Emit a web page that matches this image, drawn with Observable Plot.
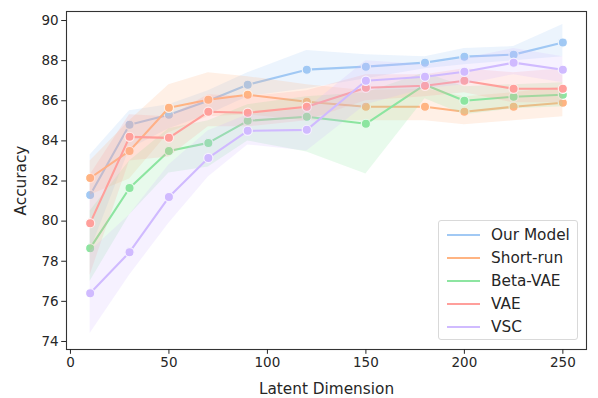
<!DOCTYPE html>
<html>
<head>
<meta charset="utf-8">
<script src="https://cdn.jsdelivr.net/npm/d3@7"></script>
<script src="https://cdn.jsdelivr.net/npm/@observablehq/plot@0.6"></script>
<style>
  html, body { margin: 0; padding: 0; background: #fff; }
  #wrap { position: relative; width: 598px; height: 398px; font-family: "DejaVu Sans", sans-serif; }
  #legend { position: absolute; left: 438px; top: 220px; width: 140px; height: 120px;
    border: 1px solid #d9d9d9; border-radius: 3px; background: rgba(255,255,255,0.85);
    box-sizing: border-box; padding-top: 2px; }
  .row { display: flex; align-items: center; height: 23px; font-size: 15.3px; color: #262626; }
  .sw { width: 33px; height: 2px; margin-left: 8px; margin-right: 11px; }
  g[aria-label="x-axis label"] text, g[aria-label="y-axis label"] text { font-size: 15.3px; }
</style>
</head>
<body>
<div id="wrap"><div id="legend"></div></div>
<script>
const dims = [10, 30, 50, 70, 90, 120, 150, 180, 200, 225, 250];
const seriesNames = ["Our Model", "Short-run", "Beta-VAE", "VAE", "VSC"];
const colors = ["#a1c9f4", "#ffb482", "#8de5a1", "#ff9f9b", "#d0bbff"];

const ourModel   = [81.3, 84.8, 85.3, 86.0, 86.8, 87.55, 87.7, 87.9, 88.2, 88.3, 88.9];
const ourModelLo = [78.5, 83.6, 84.6, 85.3, 86.2, 86.6, 87.1, 87.6, 87.8, 88.0, 88.2];
const ourModelHi = [83.3, 85.5, 85.8, 86.5, 87.4, 88.5, 88.3, 88.2, 88.6, 88.7, 89.8];

const shortRun   = [82.15, 83.5, 85.65, 86.05, 86.3, 85.95, 85.7, 85.7, 85.45, 85.7, 85.9];
const shortRunLo = [81.3, 82.1, 84.4, 85.2, 85.3, 85.0, 85.0, 85.0, 84.8, 85.0, 85.2];
const shortRunHi = [83.0, 85.0, 86.8, 87.4, 87.2, 86.8, 86.5, 86.6, 86.2, 86.4, 86.7];

const betaVAE   = [78.65, 81.65, 83.5, 83.9, 85.0, 85.2, 84.85, 86.8, 86.0, 86.2, 86.3];
const betaVAELo = [77.0, 80.3, 82.4, 82.7, 84.0, 83.45, 82.35, 86.1, 85.3, 85.6, 85.7];
const betaVAEHi = [80.5, 83.0, 84.6, 85.0, 85.8, 86.2, 86.4, 87.4, 86.7, 86.8, 86.9];

const vae   = [79.9, 84.2, 84.15, 85.45, 85.4, 85.7, 86.65, 86.75, 87.0, 86.6, 86.6];
const vaeLo = [77.3, 83.0, 83.2, 84.7, 84.7, 85.0, 86.0, 86.2, 86.4, 85.9, 85.9];
const vaeHi = [82.3, 85.3, 85.2, 86.3, 86.2, 86.5, 87.3, 87.3, 87.6, 87.4, 87.6];

const vsc   = [76.4, 78.45, 81.2, 83.15, 84.5, 84.55, 87.0, 87.2, 87.45, 87.9, 87.55];
const vscLo = [74.4, 77.3, 79.9, 82.2, 83.8, 83.5, 85.8, 86.6, 86.8, 87.3, 86.9];
const vscHi = [78.5, 80.3, 82.8, 84.5, 85.3, 85.6, 88.0, 87.8, 88.1, 88.6, 88.2];

const xTicks = [0, 50, 100, 150, 200, 250];
const yTicks = [74, 76, 78, 80, 82, 84, 86, 88, 90];

const seriesData = [
  [ourModel, ourModelLo, ourModelHi],
  [shortRun, shortRunLo, shortRunHi],
  [betaVAE, betaVAELo, betaVAEHi],
  [vae, vaeLo, vaeHi],
  [vsc, vscLo, vscHi]
];

const marks = [];
seriesData.forEach(([v, lo, hi], i) => {
  const rows = dims.map((d, j) => ({x: d, y: v[j], lo: lo[j], hi: hi[j]}));
  marks.push(Plot.line(rows, {x: "x", y: "y", stroke: colors[i], strokeWidth: 2.1}));
  marks.push(Plot.dot(rows, {x: "x", y: "y", r: 4.6, fill: colors[i], stroke: "white", strokeWidth: 1.2}));
  marks.push(Plot.areaY(rows, {x: "x", y1: "lo", y2: "hi", fill: colors[i], fillOpacity: 0.2}));
});

const chart = Plot.plot({
  width: 598, height: 398,
  marginLeft: 66, marginRight: 12, marginTop: 11, marginBottom: 49,
  style: {fontFamily: "DejaVu Sans, sans-serif", fontSize: "13.5px", color: "#262626", background: "white"},
  x: {domain: [-2, 262]},
  y: {domain: [73.6, 90.45]},
  marks: [
    ...marks,
    Plot.frame({stroke: "#333", strokeWidth: 1.1}),
    Plot.axisX({ticks: xTicks, tickSize: 4.8, tickPadding: 3, label: "Latent Dimension", labelAnchor: "center", labelOffset: 44, labelArrow: "none"}),
    Plot.axisY({ticks: yTicks, tickSize: 4.8, tickPadding: 3, label: "Accuracy", labelAnchor: "center", labelOffset: 51, labelArrow: "none"})
  ]
});
const wrap = document.getElementById("wrap");
wrap.insertBefore(chart, wrap.firstChild);

const legend = document.getElementById("legend");
seriesNames.forEach((name, i) => {
  const row = document.createElement("div");
  row.className = "row";
  const sw = document.createElement("div");
  sw.className = "sw";
  sw.style.background = colors[i];
  const t = document.createElement("span");
  t.textContent = name;
  row.appendChild(sw); row.appendChild(t);
  legend.appendChild(row);
});
</script>
</body>
</html>
